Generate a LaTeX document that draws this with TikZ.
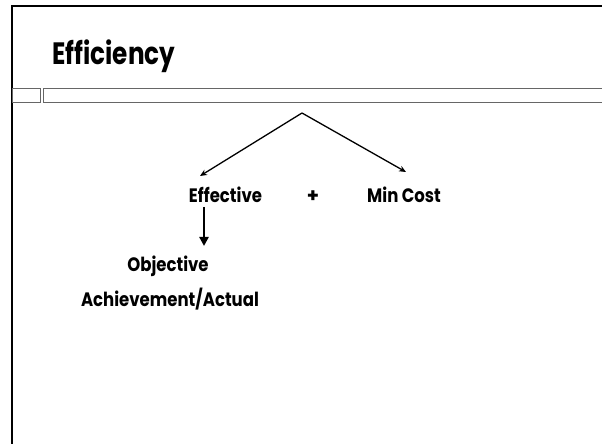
\documentclass[tikz,border=0pt]{standalone}
\usepackage{fontspec}
\setmainfont{Poppins}
\usetikzlibrary{calc}
\usetikzlibrary{arrows.meta}
\newcommand{\narrow}[1]{\scalebox{0.85}[1]{#1}}

\begin{document}
\begin{tikzpicture}[x=1bp,y=-1bp,
    label/.style={font=\fontsize{19.5}{20}\selectfont\bfseries,inner sep=0pt,anchor=base},
    band/.style={draw=black!60,line width=0.9bp}]
    \useasboundingbox (0,0) rectangle (602,444);
    % slide frame
    \draw [line width=2bp] (12,450)--(12,6)--(610,6);
    \draw [band] (12,88) rectangle (40,102);
    \draw [band] (43,88) rectangle (610,102);
    \node[font=\fontsize{31}{32}\selectfont\bfseries,inner sep=0pt,anchor=base west] (Title) at (52,65) {\scalebox{0.8}[1]{Efficiency}};
    % tree
    \coordinate (Top) at (302,113);
    \node[label] (Eff) at (225.5,203) {\narrow{Effective}};
    \node[label] (Plus) at (313,203) {+};
    \node[label] (Cost) at (404,203) {\narrow{Min\hspace{4pt}Cost}};
    \node[label] (Obj) at (168,272) {\narrow{Objective}};
    \node[label] (Ach) at (170,306) {\narrow{Achievement/Actual}};
    \draw [-{Stealth[length=7bp,width=6bp]},line width=1.3bp] (Top)--($(Eff.base)+(-25.5,-27)$);
    \draw [-{Stealth[length=7bp,width=6bp]},line width=1.3bp] (Top)--($(Cost.base)+(2,-31)$);
    \draw [-{Triangle[length=9bp,width=9bp]},line width=2.7bp] ($(Eff.base)+(-21.5,4)$)--($(Obj.base)+(36,-26)$);
\end{tikzpicture}
\end{document}
